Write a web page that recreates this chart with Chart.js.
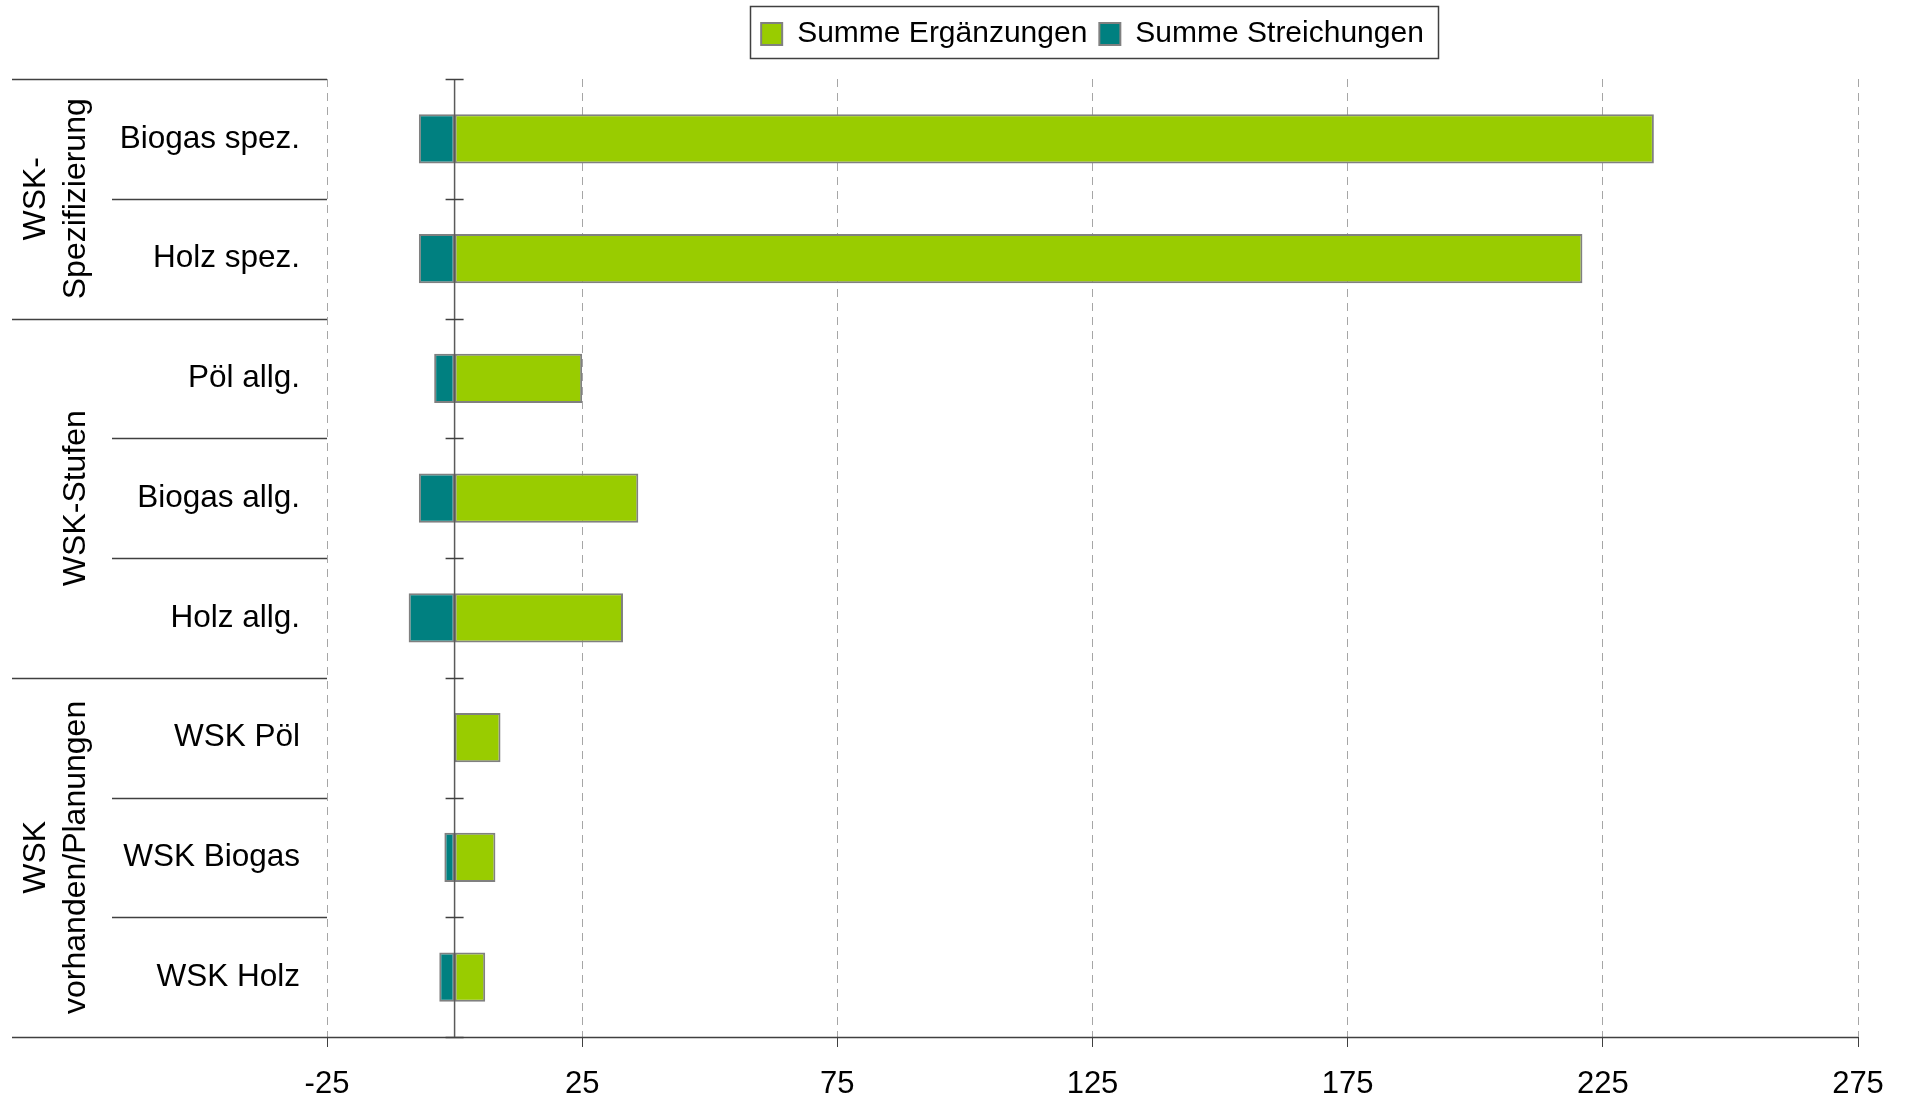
<!DOCTYPE html>
<html lang="de">
<head>
    <meta charset="UTF-8">
    <title>WSK - Ergänzungen und Streichungen</title>
    <script src="https://cdn.jsdelivr.net/npm/chart.js"></script>
    <style>
        body, html {
            margin: 0;
            padding: 0;
            background-color: #ffffff;
        }

        .chart-container {
            position: relative;
            width: 1908px;
            height: 1098px;
        }
    </style>
</head>
<body>
    <div class="chart-container">
        <canvas id="wskChart"></canvas>
    </div>

    <script>
        // Daten
        const categories = ['Biogas spez.', 'Holz spez.', 'Pöl allg.', 'Biogas allg.', 'Holz allg.', 'WSK Pöl', 'WSK Biogas', 'WSK Holz'];
        const ergaenzungen = [235, 221, 25, 36, 33, 9, 8, 6];
        const streichungen = [-7, -7, -4, -7, -9, 0, -2, -3];
        const groupLabels = [['WSK-', 'Spezifizierung'], ['WSK-Stufen'], ['WSK', 'vorhanden/Planungen']];
        const groupSizes = [2, 3, 3];
        const xTicks = [-25, 25, 75, 125, 175, 225, 275];

        const FONT = "'Liberation Sans', Arial, sans-serif";
        Chart.defaults.font.family = FONT;
        Chart.defaults.color = '#000000';

        // Legende etwas höher machen, damit die Zeichenfläche bei y=79 beginnt
        const legendSpacer = {
            id: 'legendSpacer',
            afterInit(chart) {
                const legend = chart.legend;
                const fit = legend.fit.bind(legend);
                legend.fit = function () {
                    fit();
                    this.height = 72;
                };
            }
        };

        // Tabelle links, Nulllinie, Rahmen der Legende
        const decorations = {
            id: 'decorations',
            afterDraw(chart) {
                const ctx = chart.ctx;
                const area = chart.chartArea;
                const x = chart.scales.x;
                const band = (area.bottom - area.top) / categories.length;
                const x0 = x.getPixelForValue(0);

                ctx.save();

                // Trennlinien der Kategorien
                const groupEnds = [0];
                groupSizes.reduce((acc, n) => { groupEnds.push(acc + n); return acc + n; }, 0);
                ctx.strokeStyle = '#404040';
                ctx.lineWidth = 1.5;
                for (let k = 0; k < categories.length; k++) {
                    const yy = Math.round(area.top + k * band) + 0.5;
                    const left = groupEnds.includes(k) ? 12 : 112;
                    ctx.beginPath();
                    ctx.moveTo(left, yy);
                    ctx.lineTo(area.left, yy);
                    ctx.stroke();
                }
                // untere Achsenlinie
                ctx.beginPath();
                ctx.moveTo(12, Math.round(area.bottom) + 0.5);
                ctx.lineTo(area.right, Math.round(area.bottom) + 0.5);
                ctx.stroke();

                // Nulllinie mit Teilstrichen
                ctx.strokeStyle = '#5a5a5a';
                ctx.beginPath();
                ctx.moveTo(x0, area.top);
                ctx.lineTo(x0, area.bottom);
                ctx.stroke();
                ctx.strokeStyle = '#404040';
                for (let k = 0; k <= categories.length; k++) {
                    const yy = Math.round(area.top + k * band) + 0.5;
                    ctx.beginPath();
                    ctx.moveTo(x0 - 9, yy);
                    ctx.lineTo(x0 + 9, yy);
                    ctx.stroke();
                }

                // Gruppenbeschriftung (gedreht)
                ctx.fillStyle = '#000000';
                ctx.font = '32px ' + FONT;
                ctx.textAlign = 'center';
                ctx.textBaseline = 'middle';
                groupLabels.forEach((lines, g) => {
                    const yc = area.top + (groupEnds[g] + groupSizes[g] / 2) * band;
                    const xs = lines.length === 2 ? [36, 76] : [76];
                    lines.forEach((line, i) => {
                        ctx.save();
                        ctx.translate(xs[i], yc);
                        ctx.rotate(-Math.PI / 2);
                        ctx.fillText(line, 0, 0);
                        ctx.restore();
                    });
                });

                // Rahmen der Legende
                const boxes = chart.legend.legendHitBoxes;
                if (boxes && boxes.length) {
                    const l = Math.min(...boxes.map(b => b.left)) - 11;
                    const r = Math.max(...boxes.map(b => b.left + b.width)) + 14;
                    ctx.strokeStyle = '#404040';
                    ctx.lineWidth = 1.5;
                    ctx.strokeRect(Math.round(l) + 0.5, 6.5, Math.round(r - l), 52);
                }

                ctx.restore();
            }
        };

        new Chart(document.getElementById('wskChart').getContext('2d'), {
            type: 'bar',
            data: {
                labels: categories,
                datasets: [{
                    label: 'Summe Ergänzungen',
                    data: ergaenzungen,
                    backgroundColor: '#99cc00',
                    borderColor: '#808080',
                    borderWidth: 2,
                    borderSkipped: false
                }, {
                    label: 'Summe Streichungen',
                    data: streichungen,
                    backgroundColor: '#008080',
                    borderColor: '#808080',
                    borderWidth: 2,
                    borderSkipped: false
                }]
            },
            options: {
                indexAxis: 'y',
                responsive: true,
                maintainAspectRatio: false,
                animation: false,
                barPercentage: 0.41,
                categoryPercentage: 1,
                layout: {
                    padding: { top: 7, right: 50, bottom: 0, left: 0 }
                },
                scales: {
                    x: {
                        stacked: true,
                        min: -25,
                        max: 275,
                        afterBuildTicks(scale) {
                            scale.ticks = xTicks.map(v => ({ value: v }));
                        },
                        afterFit(scale) {
                            scale.height = 61;
                        },
                        grid: {
                            color: '#a6a6a6',
                            lineWidth: 1,
                            tickColor: '#404040',
                            tickLength: 10,
                            tickBorderDash: []
                        },
                        border: {
                            display: false,
                            dash: [8, 6]
                        },
                        ticks: {
                            padding: 19,
                            maxRotation: 0,
                            font: { size: 31 }
                        }
                    },
                    y: {
                        stacked: true,
                        afterFit(scale) {
                            scale.width = 327;
                        },
                        grid: {
                            display: false,
                            drawTicks: false
                        },
                        border: {
                            display: false
                        },
                        ticks: {
                            padding: 27,
                            font: { size: 31.5 }
                        }
                    }
                },
                plugins: {
                    legend: {
                        position: 'top',
                        fullSize: false,
                        labels: {
                            boxWidth: 21,
                            boxHeight: 22,
                            padding: 12,
                            font: { size: 30 }
                        }
                    },
                    tooltip: {
                        enabled: false
                    }
                }
            },
            plugins: [legendSpacer, decorations]
        });
    </script>
</body>
</html>
